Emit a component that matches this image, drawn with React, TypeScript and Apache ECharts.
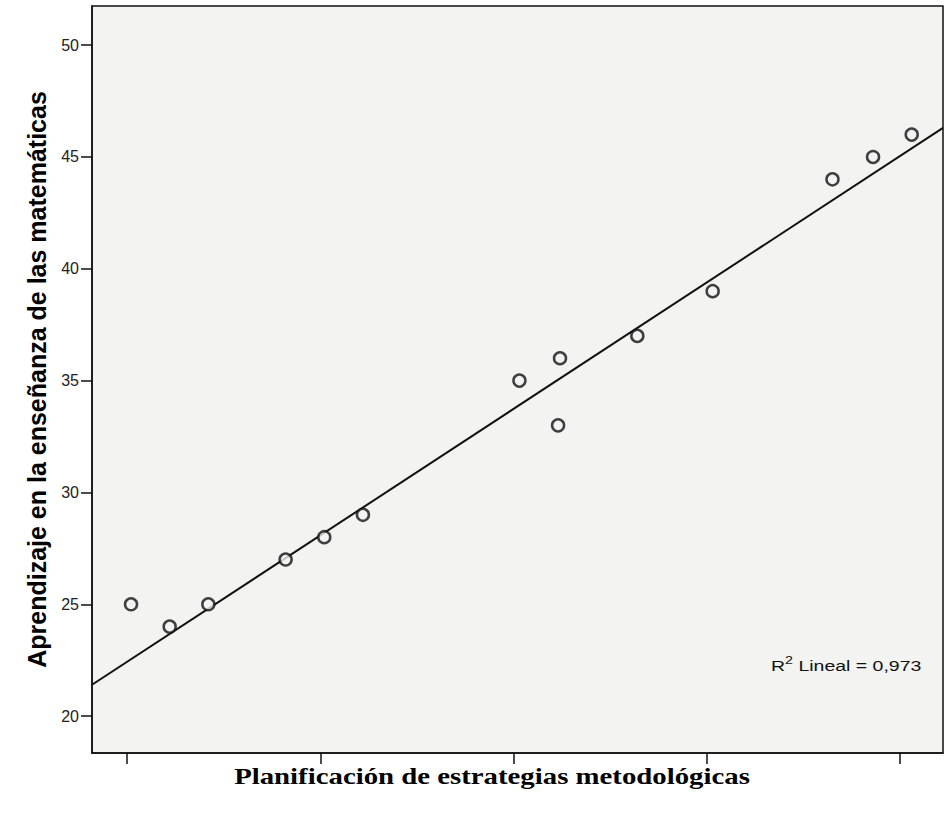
import React, { useEffect, useRef } from "react";
import * as echarts from "echarts";

const xValues = [20.1, 21.1, 22.1, 24.1, 25.1, 26.1, 30.15, 31.2, 31.15, 33.2, 35.15, 38.25, 39.3, 40.3];
const yValues = [25, 24, 25, 27, 28, 29, 35, 36, 33, 37, 39, 44, 45, 46];
const fitLineX = [19.09, 41.11];
const fitLineY = [21.4, 46.3];
const yTicks = [20, 25, 30, 35, 40, 45, 50];
const xTicks = [20, 25, 30, 35, 40];
const rSquared = "0,973";

export default function App() {
  const ref = useRef<HTMLDivElement>(null);
  useEffect(() => {
    if (!ref.current) return;
    const chart = echarts.init(ref.current, null, { renderer: "svg" });
    const points = xValues.map((x, i) => [x, yValues[i]]);
    const fit = fitLineX.map((x, i) => [x, fitLineY[i]]);
    chart.setOption({
      animation: false,
      backgroundColor: "#ffffff",
      grid: {
        left: 92,
        top: 6,
        right: 2,
        bottom: 70,
        show: true,
        backgroundColor: "#f3f3f2",
        borderColor: "#111",
        borderWidth: 1.5,
      },
      xAxis: {
        type: "value",
        min: 19.09,
        max: 41.11,
        splitLine: { show: false },
        axisLine: { show: true, lineStyle: { color: "#111", width: 1.5 } },
        axisTick: {
          show: true,
          length: 11,
          customValues: xTicks,
          lineStyle: { color: "#111", width: 1.5 },
        },
        axisLabel: { show: false, customValues: xTicks },
      },
      yAxis: {
        type: "value",
        min: 18.35,
        max: 51.75,
        splitLine: { show: false },
        axisLine: { show: true, lineStyle: { color: "#111", width: 1.5 } },
        axisTick: {
          show: true,
          length: 11,
          customValues: yTicks,
          lineStyle: { color: "#111", width: 1.5 },
        },
        axisLabel: {
          customValues: yTicks,
          color: "#222",
          fontSize: 16,
          fontFamily: "Liberation Sans, Arial, sans-serif",
          margin: 13,
        },
        name: "Aprendizaje en la enseñanza de las matemáticas",
        nameLocation: "middle",
        nameGap: 43,
        nameTextStyle: {
          color: "#000",
          fontSize: 25,
          fontWeight: "bold",
          fontFamily: "Liberation Sans, Arial, sans-serif",
        },
      },
      graphic: [
        {
          type: "text",
          x: 492,
          y: 776,
          scaleX: 1.2,
          style: {
            x: 0,
            y: 0,
            text: "Planificación de estrategias metodológicas",
            fill: "#000",
            font: "bold 24px 'Liberation Serif', 'Times New Roman', serif",
            align: "center",
            verticalAlign: "middle",
          },
        },
        {
          type: "text",
          x: 771,
          y: 664,
          scaleX: 1.3,
          style: {
            x: 0,
            y: 0,
            align: "left",
            verticalAlign: "middle",
            text: "{n|R}{s|2}{n| Lineal = " + rSquared + "}",
            rich: {
              n: {
                fontSize: 15,
                fill: "#111",
                fontFamily: "Liberation Sans, Arial, sans-serif",
                verticalAlign: "bottom",
              },
              s: {
                fontSize: 11,
                fill: "#111",
                fontFamily: "Liberation Sans, Arial, sans-serif",
                verticalAlign: "top",
                padding: [0, 0, 8, 0],
              },
            },
          },
        },
      ],
      series: [
        {
          type: "line",
          data: fit,
          symbol: "none",
          lineStyle: { color: "#111", width: 2 },
          silent: true,
          z: 2,
        },
        {
          type: "scatter",
          data: points,
          symbol: "circle",
          symbolSize: 12,
          itemStyle: { color: "#f3f3f2", borderColor: "#111", borderWidth: 2.5 },
          z: 3,
        },
      ],
    });
    return () => chart.dispose();
  }, []);
  return (
    <div
      ref={ref}
      style={{ position: "fixed", left: 0, top: 0, width: 945, height: 823 }}
    />
  );
}
